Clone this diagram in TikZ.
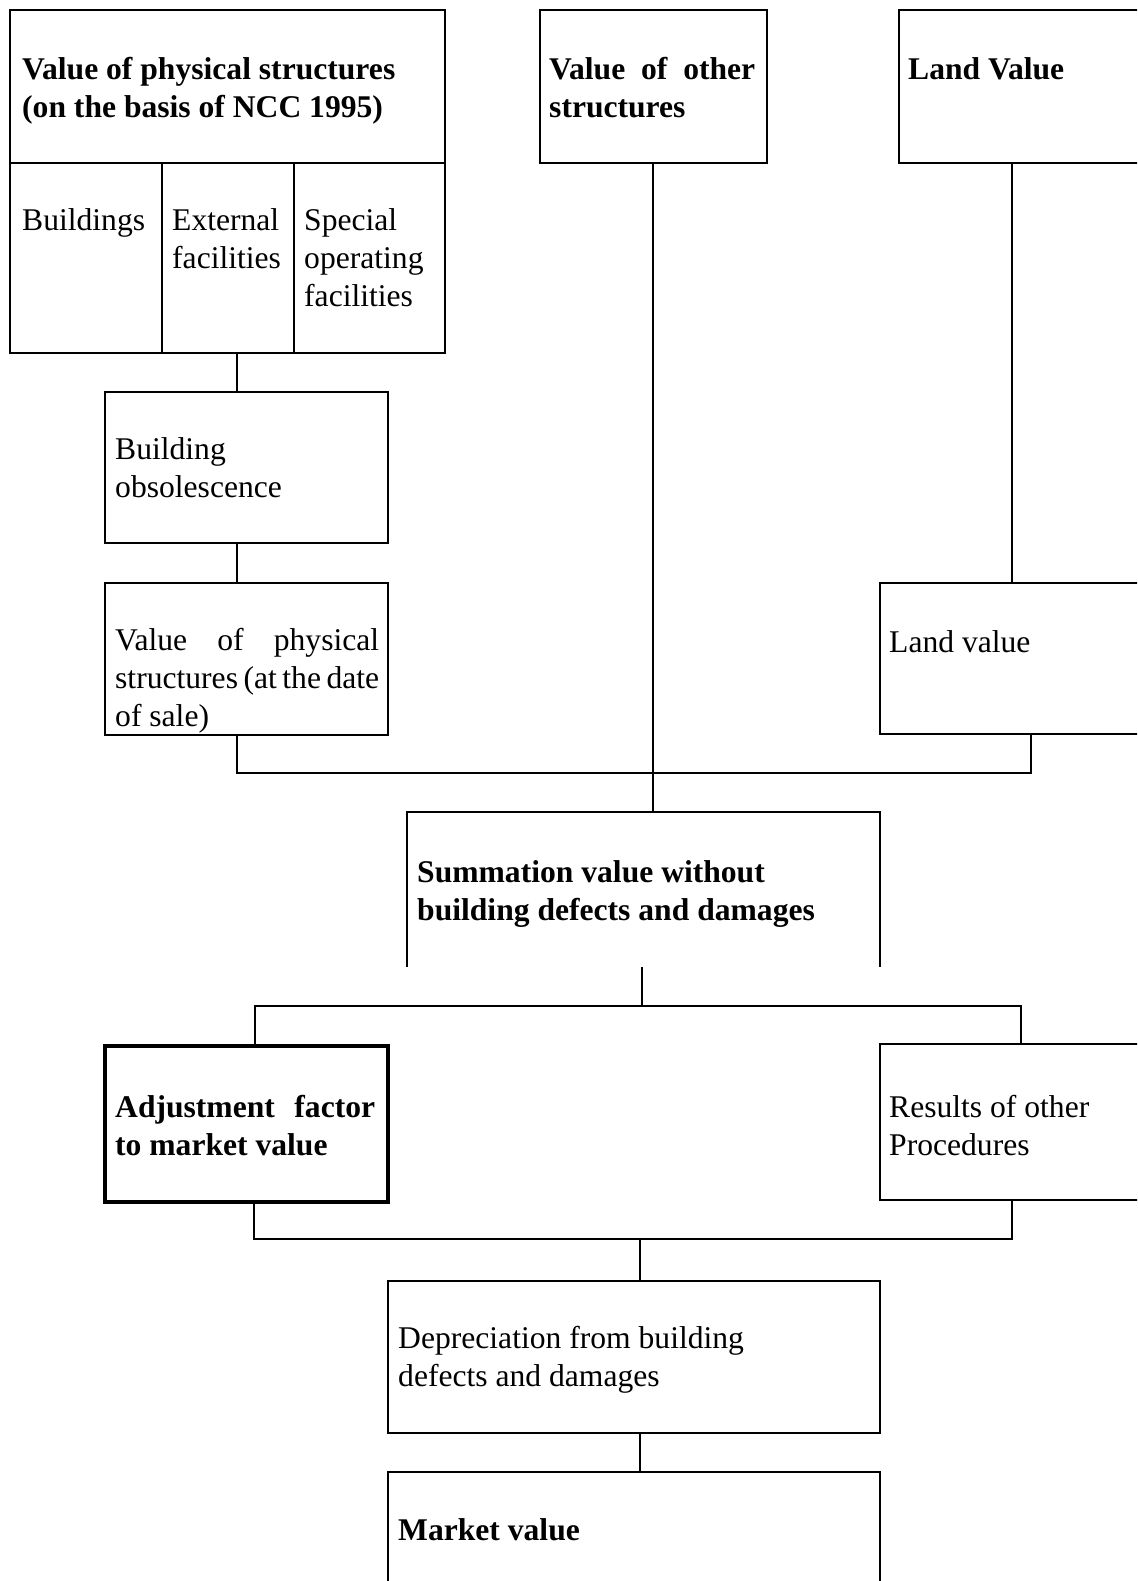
\documentclass[tikz,border=0pt]{standalone}
\usepackage{fontspec}
\setmainfont{Liberation Serif}
\newcommand\fl{\rule{0pt}{25pt}}
\begin{document}
\begin{tikzpicture}[x=1pt,y=-1pt,
  box/.style={draw, line width=2pt, inner sep=0pt, outer sep=0pt, anchor=north west},
  thickbox/.style={box, line width=3.8pt},
  frame/.style={inner sep=0pt, outer sep=0pt, anchor=north west},
  conn/.style={line width=2pt},
  txt/.style={anchor=north west, inner sep=0pt, align=left, font=\fontsize{31.6}{38}\selectfont},
  btxt/.style={anchor=north west, inner sep=0pt, align=left, font=\fontsize{31.6}{38}\selectfont\bfseries},
]
\useasboundingbox (0,0) rectangle (1137,1581);
\fill[white] (0,0) rectangle (1137,1581);
\clip (0,0) rectangle (1137,1581);

% boxes
\node[box, minimum width=435pt, minimum height=343pt] (A) at (10,10) {};
\node[box, minimum width=227pt, minimum height=153pt] (B) at (540,10) {};
\node[box, minimum width=300pt, minimum height=153pt] (C) at (899,10) {};
\node[box, minimum width=283pt, minimum height=151pt] (D) at (105,392) {};
\node[box, minimum width=283pt, minimum height=152pt] (E) at (105,583) {};
\node[box, minimum width=300pt, minimum height=151pt] (F) at (880,583) {};
\node[frame, minimum width=473pt, minimum height=155pt] (G) at (407,812) {};
\node[thickbox, minimum width=283pt, minimum height=156pt] (H) at (105,1046) {};
\node[box, minimum width=300pt, minimum height=156pt] (I) at (880,1044) {};
\node[box, minimum width=492pt, minimum height=152pt] (J) at (388,1281) {};
\node[box, minimum width=492pt, minimum height=150pt] (K) at (388,1472) {};

% helper coordinates
\coordinate (yA) at (0,163);
\coordinate (xA1) at (162,0);
\coordinate (xA2) at (294,0);
\coordinate (xL) at (237,0);
\coordinate (xB) at (653,0);
\coordinate (xC) at (1012,0);
\coordinate (xF) at (1031,0);
\coordinate (xG) at (642,0);
\coordinate (xH) at (255,0);
\coordinate (xI) at (1021,0);
\coordinate (xHb) at (254,0);
\coordinate (xIb) at (1012,0);
\coordinate (xJ) at (640,0);
\coordinate (y1) at (0,773);
\coordinate (y2) at (0,1006);
\coordinate (y3) at (0,1239);

% inner divisions of A
\draw[conn] (A.west |- yA) -- (A.east |- yA);
\draw[conn] (xA1 |- yA) -- (A.south -| xA1);
\draw[conn] (xA2 |- yA) -- (A.south -| xA2);

% open box G (no bottom edge)
\draw[conn] (G.south west) -- (G.north west) -- (G.north east) -- (G.south east);

% connectors
\draw[conn] (A.south -| xL) -- (D.north -| xL);
\draw[conn] (D.south -| xL) -- (E.north -| xL);
\draw[conn] (C.south -| xC) -- (F.north -| xC);
\draw[conn] (E.south -| xL) -- (xL |- y1) -- (xF |- y1) -- (F.south -| xF);
\draw[conn] (B.south -| xB) -- (G.north -| xB);
\draw[conn] (G.south -| xG) -- (xG |- y2);
\draw[conn] (H.north -| xH) -- (xH |- y2) -- (xI |- y2) -- (I.north -| xI);
\draw[conn] (H.south -| xHb) -- (xHb |- y3) -- (xIb |- y3) -- (I.south -| xIb);
\draw[conn] (xJ |- y3) -- (J.north -| xJ);
\draw[conn] (J.south -| xJ) -- (K.north -| xJ);

% texts
\node[btxt] (tA) at (22,54) {\fl Value of physical structures\\(on the basis of NCC 1995)};
\node[txt] (tA1) at (22,205) {\fl Buildings};
\node[txt] (tA2) at (172,205) {\fl External\\facilities};
\node[txt] (tA3) at (304,205) {\fl Special\\operating\\facilities};
\node[btxt] (tB) at (549,54) {\fl\makebox[206pt][s]{Value of other}\\structures};
\node[btxt] (tC) at (908,54) {\fl Land Value};
\node[txt] (tD) at (115,434) {\fl Building\\obsolescence};
\node[txt] (tE) at (115,625) {\fl\makebox[264pt][s]{Value of physical}\\\makebox[264pt][s]{structures (at the date}\\of sale)};
\node[txt] (tF) at (889,627) {\fl Land value};
\node[btxt] (tG) at (417,857) {\fl Summation value without\\building defects and damages};
\node[btxt] (tH) at (115,1092) {\fl\makebox[260pt][s]{Adjustment factor}\\to market value};
\node[txt] (tI) at (889,1092) {\fl Results of other\\Procedures};
\node[txt] (tJ) at (398,1323) {\fl Depreciation from building\\defects and damages};
\node[btxt] (tK) at (398,1515) {\fl Market value};
\end{tikzpicture}
\end{document}
